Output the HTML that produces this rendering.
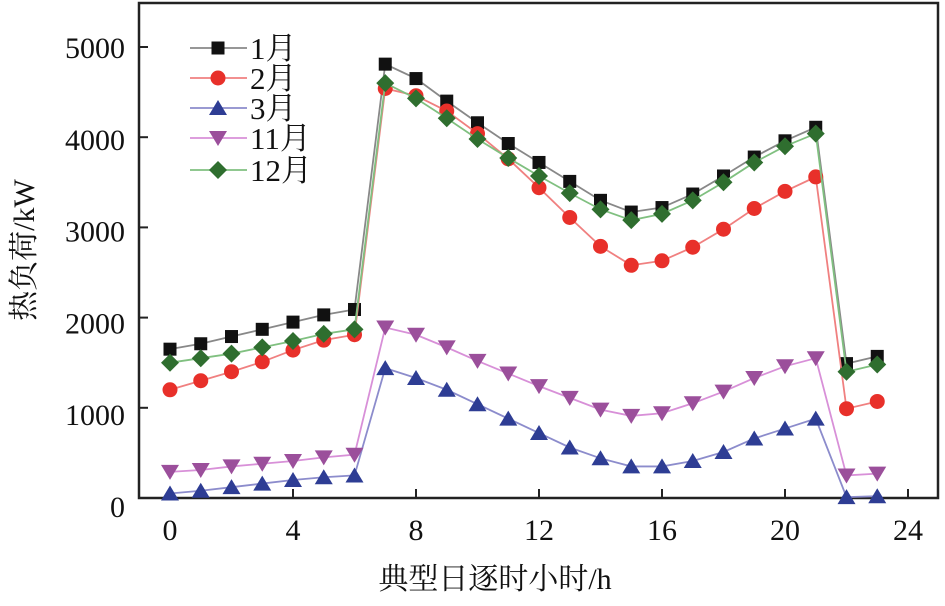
<!DOCTYPE html>
<html><head><meta charset="utf-8"><style>
body{margin:0;background:#fff;}
svg text{font-family:"Liberation Serif","Noto Serif CJK SC",serif;fill:#111;}
</style></head><body>
<svg id="chart" width="945" height="601" viewBox="0 0 945 601" xmlns="http://www.w3.org/2000/svg">
<rect x="139" y="3" width="799" height="495" fill="none" stroke="#222" stroke-width="2.5"/>
<g id="axes"></g><g id="series"></g><g id="legend"></g>
<text x="495" y="589" font-size="30" text-anchor="middle">典型日逐时小时/h</text>
<text transform="translate(34,250) rotate(-90)" font-size="30" text-anchor="middle">热负荷/kW</text>
</svg>
<script>
const hours=[0,1,2,3,4,5,6,7,8,9,10,11,12,13,14,15,16,17,18,19,20,21,22,23];
const xTicks=[0,4,8,12,16,20,24];
const yTicks=[0,1000,2000,3000,4000,5000];
const seriesNames=["1月","2月","3月","11月","12月"];
const jan=[1650,1710,1790,1870,1950,2030,2090,4810,4650,4400,4160,3930,3720,3510,3300,3170,3220,3370,3570,3780,3960,4110,1490,1570];
const feb=[1200,1300,1400,1510,1640,1750,1810,4540,4460,4290,4040,3760,3440,3110,2790,2580,2630,2780,2980,3210,3400,3560,990,1070];
const mar=[50,80,120,160,200,230,250,1440,1330,1200,1040,880,720,560,440,350,350,410,510,660,770,880,10,20];
const nov=[290,310,350,380,410,450,480,1890,1810,1670,1520,1380,1240,1110,980,910,940,1050,1180,1330,1460,1550,250,270];
const dec=[1500,1550,1600,1670,1740,1820,1870,4600,4430,4210,3980,3770,3570,3380,3200,3080,3150,3300,3500,3720,3900,4040,1400,1480];

const NS="http://www.w3.org/2000/svg";
const X=h=>170+h*30.75;
const Y=v=>498-v*0.0902;
const YL=v=>507-v*0.0918;
function mk(tag,attrs,parent){const e=document.createElementNS(NS,tag);for(const k in attrs)e.setAttribute(k,attrs[k]);parent.appendChild(e);return e;}
const axes=document.getElementById('axes');
xTicks.forEach(t=>{
  const l=mk('line',{x1:X(t),x2:X(t),y1:498,y2:489,stroke:'#222','stroke-width':2},axes);
  
  
  const tx=mk('text',{x:X(t),y:540,'font-size':30,'text-anchor':'middle'},axes);tx.textContent=t;
  
  
});
yTicks.forEach(t=>{
  const l=mk('line',{x1:139,x2:148,y1:Y(t),y2:Y(t),stroke:'#222','stroke-width':2},axes);
  
  
  const tx=mk('text',{x:125,y:YL(t)+10,'font-size':30,'text-anchor':'end'},axes);tx.textContent=t;
  
  
});
const styles=[
 {data:jan,line:'#888',fill:'#111',m:'square'},
 {data:feb,line:'#f08080',fill:'#e8302a',m:'circle'},
 {data:mar,line:'#8c8ccc',fill:'#2e3d94',m:'tri-up'},
 {data:nov,line:'#d890d8',fill:'#9b4f9b',m:'tri-down'},
 {data:dec,line:'#80c080',fill:'#2f6e2f',m:'diamond'}];
function marker(g,type,x,y,fill){
  let e;
  if(type==='square')e=mk('rect',{x:x-6.5,y:y-6.5,width:13,height:13,fill:fill},g);
  else if(type==='circle')e=mk('circle',{cx:x,cy:y,r:7.5,fill:fill},g);
  else if(type==='tri-up')e=mk('polygon',{points:`${x},${y-8} ${x-9},${y+7} ${x+9},${y+7}`,fill:fill},g);
  else if(type==='tri-down')e=mk('polygon',{points:`${x},${y+8} ${x-9},${y-7} ${x+9},${y-7}`,fill:fill},g);
  else e=mk('polygon',{points:`${x},${y-9} ${x+9},${y} ${x},${y+9} ${x-9},${y}`,fill:fill},g);
  return e;
}
const sg=document.getElementById('series');
const lg=document.getElementById('legend');
const legY=[48,78,108,138,170];
styles.forEach((s,i)=>{
  const g=mk('g',{},sg);
  
  
  const pl=mk('polyline',{points:hours.map((h,j)=>X(h)+','+Y(s.data[j])).join(' '),fill:'none',stroke:s.line,'stroke-width':1.8},g);
  
  
  hours.forEach((h,j)=>{
    const m=marker(g,s.m,X(h),Y(s.data[j]),s.fill);
    
    
  });
  const le=mk('g',{},lg);
  
  
  mk('line',{x1:190,x2:247,y1:legY[i],y2:legY[i],stroke:s.line,'stroke-width':1.8},le);
  marker(le,s.m,218,legY[i],s.fill);
  const t=mk('text',{x:250,y:legY[i]+11,'font-size':31},le);t.textContent=seriesNames[i];
});
</script>
</body></html>
